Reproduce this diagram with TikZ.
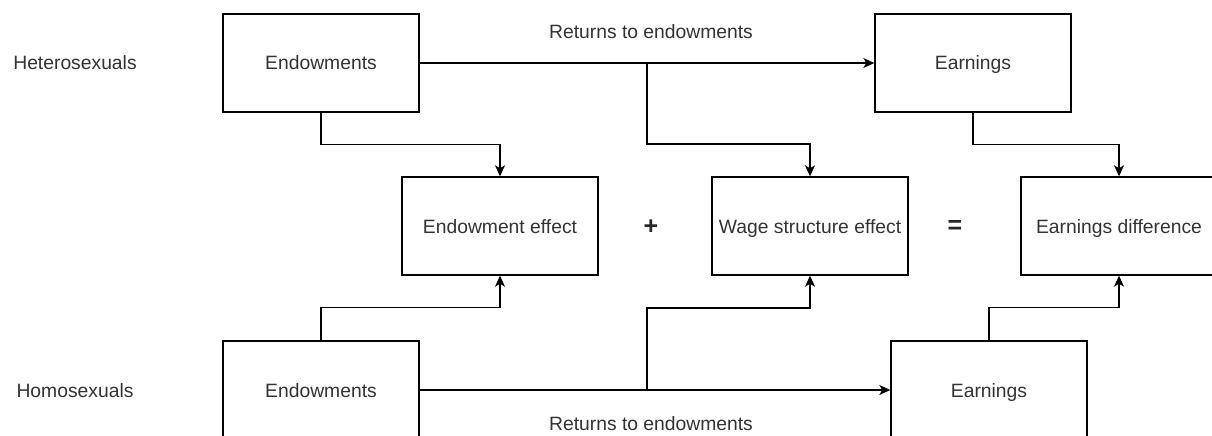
\documentclass[tikz,border=0pt]{standalone}
\usepackage{fontspec}
\setmainfont{Liberation Sans}
\usetikzlibrary{arrows.meta}
\begin{document}
\begin{tikzpicture}[x=1pt,y=-1pt,
  box/.style={draw=black,line width=1.4pt,minimum width=196pt,minimum height=98pt,inner sep=0pt,text=black!80,text height=17pt,text depth=3pt,font=\fontsize{19.3}{23}\selectfont},
  lbl/.style={inner sep=0pt,text=black!80,text height=17pt,text depth=3pt,font=\fontsize{19.3}{23}\selectfont},
  op/.style={inner sep=0pt,text=black!85,font=\fontsize{25}{28}\selectfont\bfseries},
  conn/.style={line width=1.4pt,-{Stealth[length=11pt,width=10pt,inset=3pt]}}]
\clip (0,0) rectangle (1212,436);
\fill[white] (0,0) rectangle (1212,436);
% row labels
\node[lbl] (het) at (75,63) {Heterosexuals};
\node[lbl] (hom) at (75,390) {Homosexuals};
% boxes
\node[box] (topEnd) at (321,63) {Endowments};
\node[box] (topEarn) at (973,63) {Earnings};
\node[box] (endEff) at (500,226) {Endowment effect};
\node[box] (wage) at (810,226) {Wage structure effect};
\node[box] (diff) at (1119,226) {Earnings difference};
\node[box] (botEnd) at (321,390) {Endowments};
\node[box] (botEarn) at (989,390) {Earnings};
% operators and labels
\node[op] (plus) at (651,227) {+};
\node[op] (eq) at (955,227) {=};
\node[lbl] (retT) at (651,31) {Returns to endowments};
\node[lbl] (retB) at (651,423) {Returns to endowments};
% branch points
\coordinate (brT) at (647,63);
\coordinate (brB) at (647,390);
% connectors
\draw[conn] (topEnd) -- (topEarn);
\draw[conn] (botEnd) -- (botEarn);
\draw[conn] (brT) -- ++(0,81) -| (wage.north);
\draw[conn] (brB) -- ++(0,-82) -| (wage.south);
\draw[conn] (topEnd.south) -- ++(0,32) -| (endEff.north);
\draw[conn] (botEnd.north) -- ++(0,-33) -| (endEff.south);
\draw[conn] (topEarn.south) -- ++(0,32) -| (diff.north);
\draw[conn] (botEarn.north) -- ++(0,-33) -| (diff.south);
\end{tikzpicture}
\end{document}
